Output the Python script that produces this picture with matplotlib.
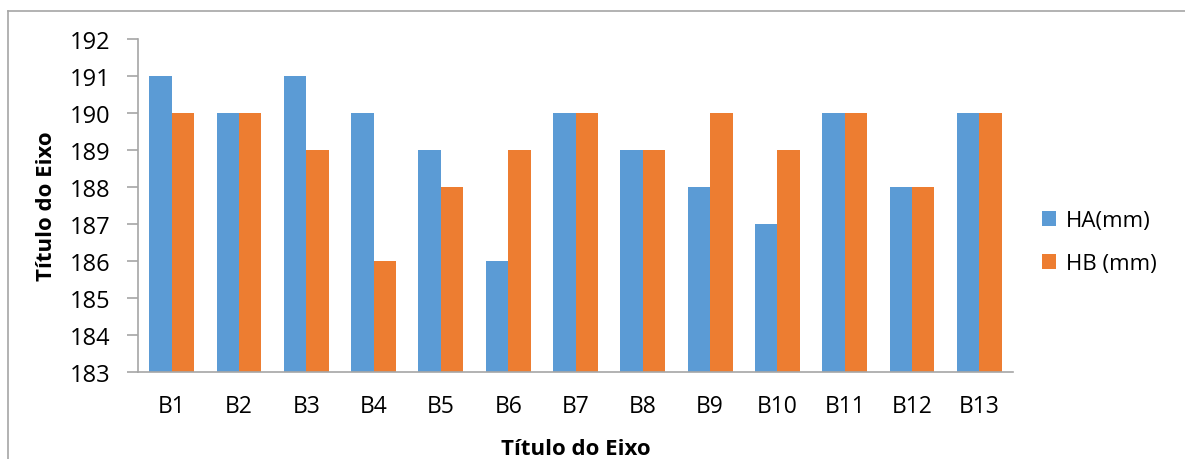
import matplotlib.pyplot as plt
import numpy as np
from matplotlib.lines import Line2D

plt.rcParams['font.family'] = ['Open Sans', 'DejaVu Sans']

categorias = ["B1", "B2", "B3", "B4", "B5", "B6", "B7", "B8", "B9", "B10", "B11", "B12", "B13"]
ha = [191, 190, 191, 190, 189, 186, 190, 189, 188, 187, 190, 188, 190]
hb = [190, 190, 189, 186, 188, 189, 190, 189, 190, 189, 190, 188, 190]

azul = "#5B9BD5"
laranja = "#ED7D31"
cinza = "#A6A6A6"

fig = plt.figure(figsize=(11.85, 4.6), dpi=100)
ax = fig.add_axes([138 / 1185, 1 - 373 / 460, 875 / 1185, 333 / 460])

x = np.arange(len(categorias))
w = 1 / 3
base = 183
ax.bar(x - w / 2, np.array(ha) - base, w, bottom=base, color=azul, label="HA(mm)")
ax.bar(x + w / 2, np.array(hb) - base, w, bottom=base, color=laranja, label="HB (mm)")

ax.set_xlim(-0.5, len(categorias) - 0.5)
ax.set_ylim(183, 192)
ax.set_yticks(range(183, 193))
ax.set_xticks(x, categorias)

for s in ["top", "right"]:
    ax.spines[s].set_visible(False)
for s in ["left", "bottom"]:
    ax.spines[s].set_color(cinza)
    ax.spines[s].set_linewidth(1.2)
ax.tick_params(axis="y", length=8, width=1.2, color=cinza, labelsize=17, pad=12)
ax.tick_params(axis="x", length=0, labelsize=16.5, pad=16)

ax.set_xlabel("Título do Eixo", fontsize=16, fontweight="bold", labelpad=14)
ax.set_ylabel("Título do Eixo", fontsize=16, fontweight="bold", labelpad=9)

ax.legend(loc="center left", bbox_to_anchor=(1.01, 0.39), frameon=False,
          fontsize=16, handlelength=0.65, handleheight=0.65, handletextpad=0.45,
          labelspacing=1.0)

# moldura do gráfico (só topo e esquerda aparecem)
fig.add_artist(Line2D([8 / 1185, 8 / 1185], [0, 1 - 12 / 460], transform=fig.transFigure, color=cinza, lw=1.2))
fig.add_artist(Line2D([8 / 1185, 1], [1 - 12 / 460, 1 - 12 / 460], transform=fig.transFigure, color=cinza, lw=1.2))

fig.savefig("out.png", dpi=100)
